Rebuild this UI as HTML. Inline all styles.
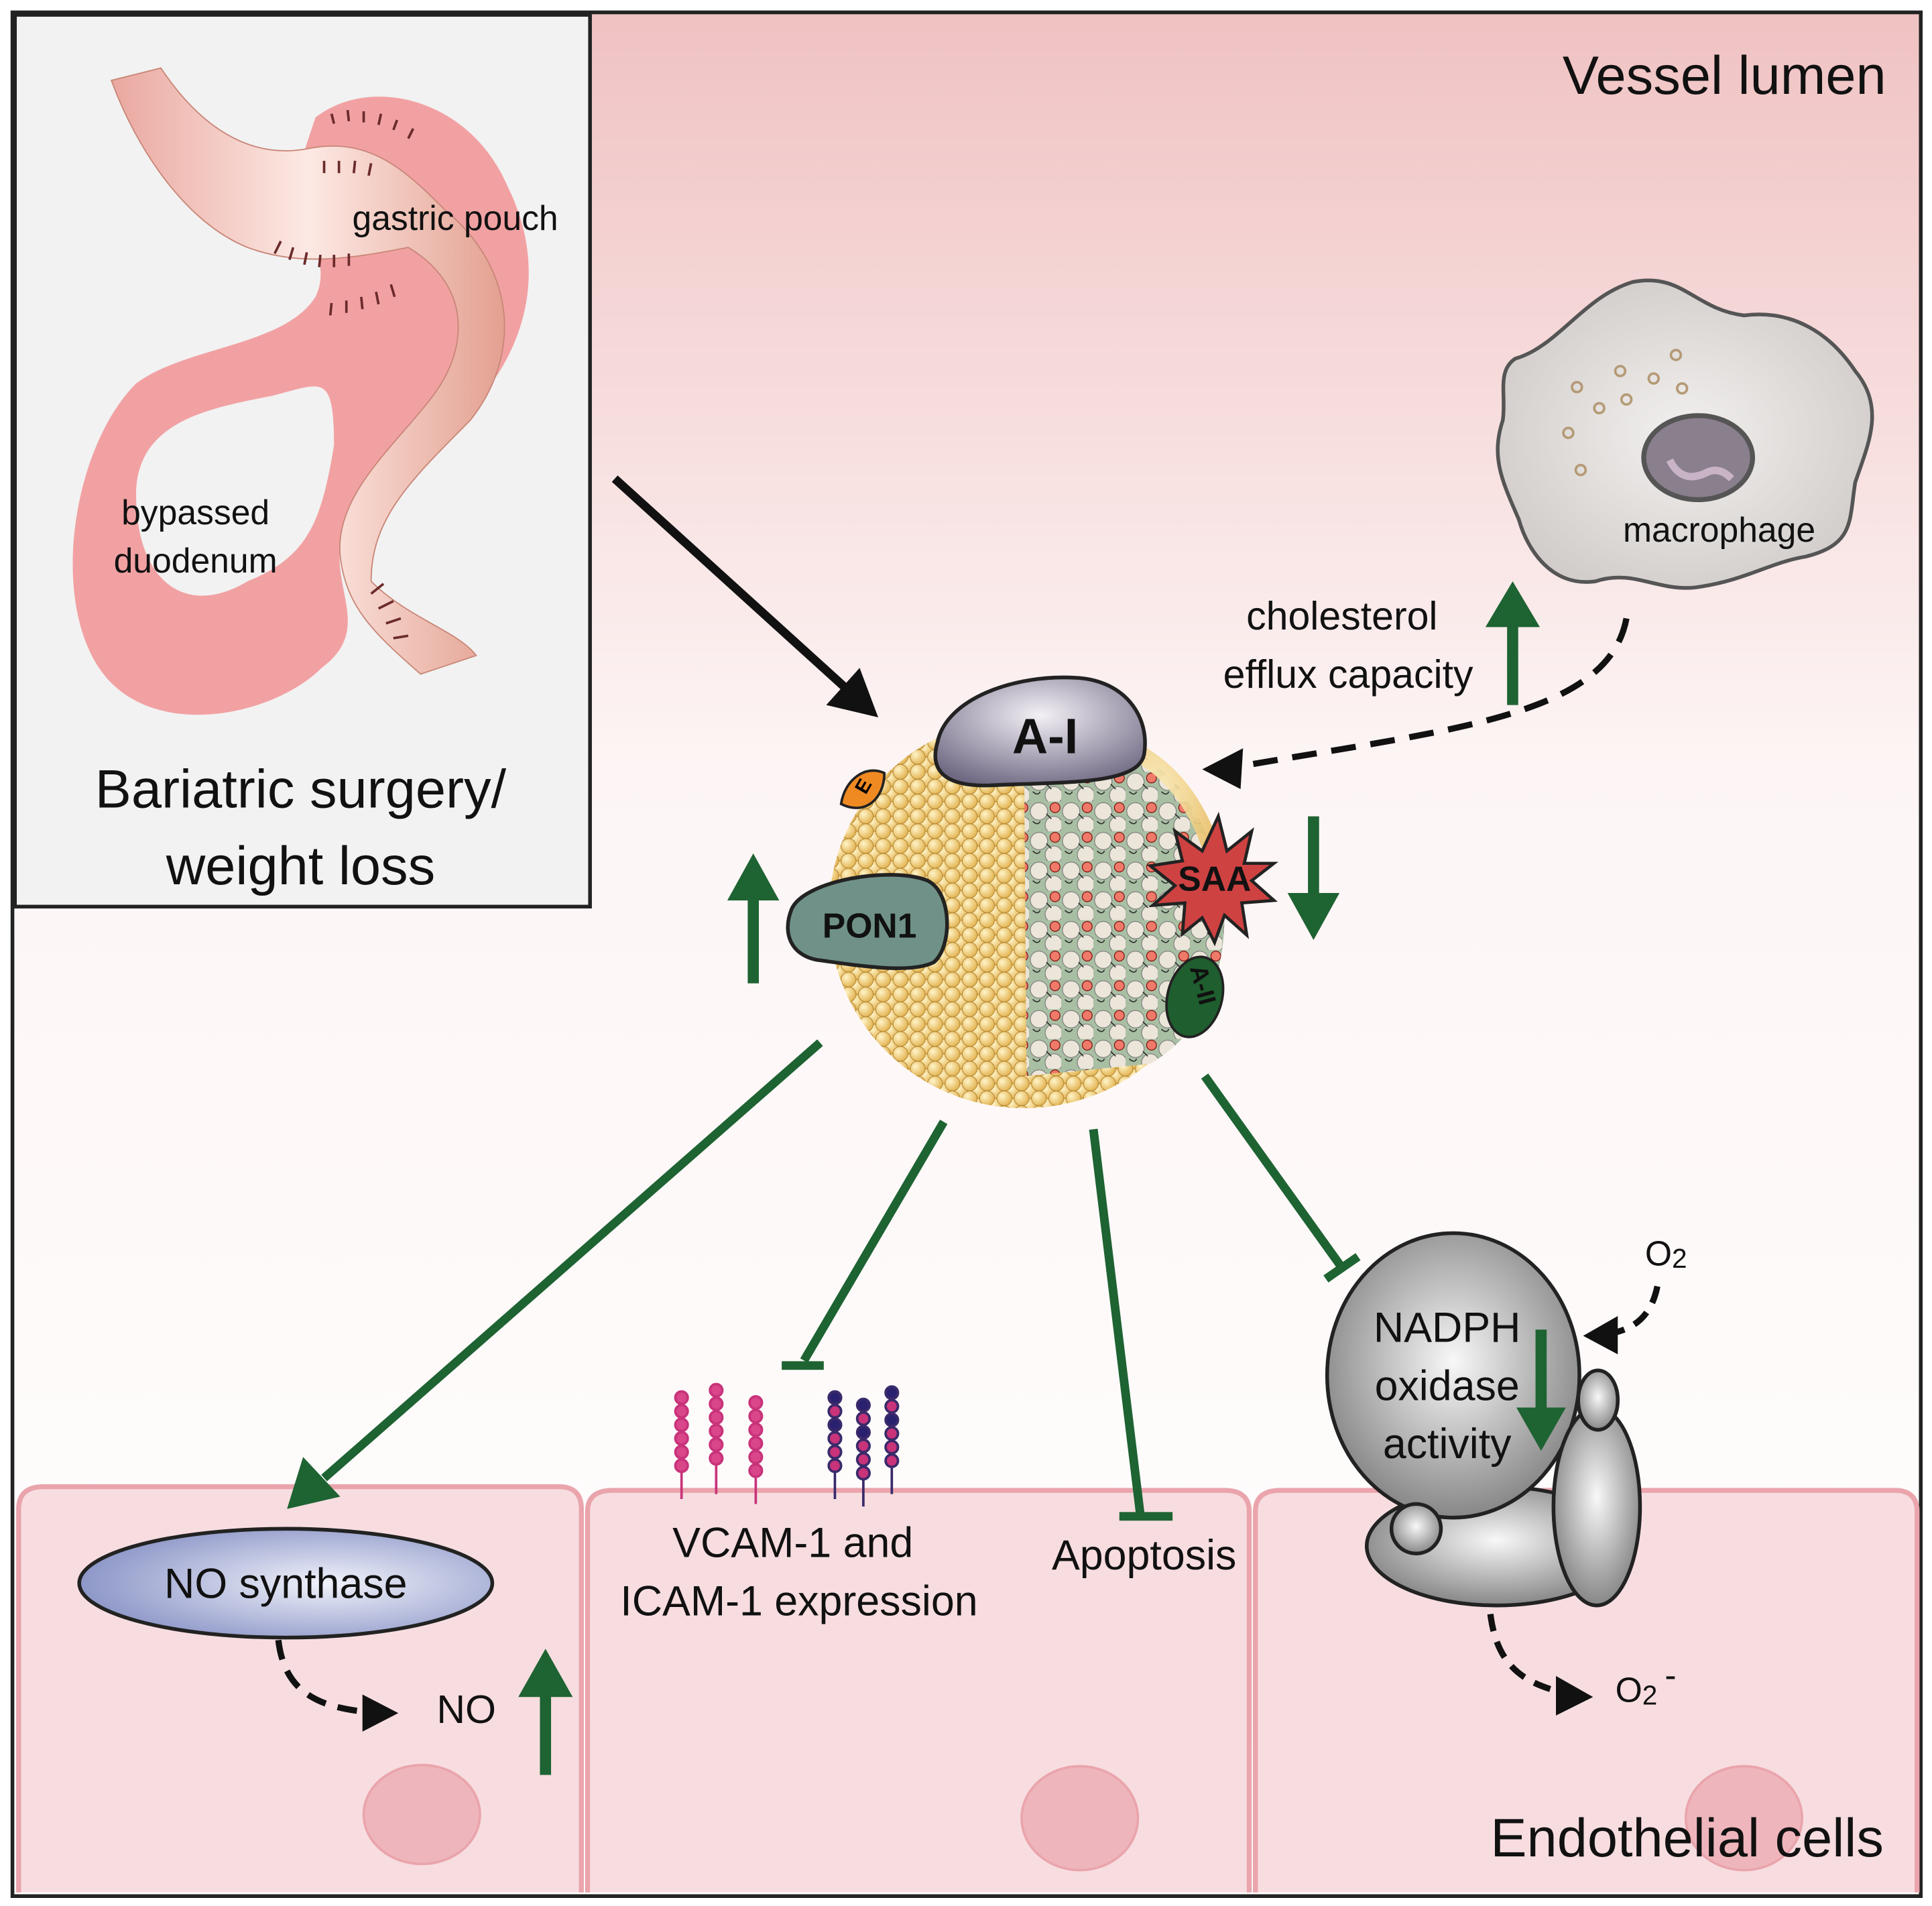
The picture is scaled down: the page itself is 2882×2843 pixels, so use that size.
<!DOCTYPE html>
<html><head><meta charset="utf-8"><style>
html,body{margin:0;padding:0;background:#fff}
svg{display:block}
text{font-family:"Liberation Sans",sans-serif}
</style></head><body>
<svg width="2882" height="2843" viewBox="0 0 1562 1541" xmlns="http://www.w3.org/2000/svg">
<defs>
<linearGradient id="bg" x1="0" y1="0" x2="0" y2="1">
<stop offset="0" stop-color="#f0c2c2"/><stop offset="0.4" stop-color="#fdf5f5"/><stop offset="1" stop-color="#fff"/>
</linearGradient>
<radialGradient id="gold" cx="0.35" cy="0.35" r="0.7"><stop offset="0" stop-color="#fff4c8"/><stop offset="1" stop-color="#e2b24f"/></radialGradient>
<pattern id="beads" width="14" height="12" patternUnits="userSpaceOnUse">
<rect width="14" height="12" fill="#c99a3f"/>
<circle cx="7" cy="6" r="6" fill="url(#gold)" stroke="#b88a35" stroke-width="0.6"/>
<circle cx="0" cy="0" r="6" fill="url(#gold)" stroke="#b88a35" stroke-width="0.6"/>
<circle cx="14" cy="0" r="6" fill="url(#gold)" stroke="#b88a35" stroke-width="0.6"/>
<circle cx="0" cy="12" r="6" fill="url(#gold)" stroke="#b88a35" stroke-width="0.6"/>
<circle cx="14" cy="12" r="6" fill="url(#gold)" stroke="#b88a35" stroke-width="0.6"/>
</pattern>
<pattern id="core" width="26" height="24" patternUnits="userSpaceOnUse">
<rect width="26" height="24" fill="#a9bfa4"/>
<circle cx="8" cy="8" r="7" fill="#ece5da" stroke="#777" stroke-width="0.6"/>
<circle cx="20" cy="19" r="7" fill="#ece5da" stroke="#777" stroke-width="0.6"/>
<circle cx="21" cy="5" r="4" fill="#f07a6a" stroke="#700" stroke-width="0.6"/>
<path d="M3 16 q4 4 6 0 M14 10 l4 4" stroke="#222" fill="none" stroke-width="0.8"/>
</pattern>
<radialGradient id="gA" cx="0.5" cy="0.35" r="0.7"><stop offset="0" stop-color="#f4f0f6"/><stop offset="1" stop-color="#6e6882"/></radialGradient>
<radialGradient id="gN" cx="0.6" cy="0.5" r="0.6"><stop offset="0" stop-color="#f0f2fa"/><stop offset="1" stop-color="#8d97c8"/></radialGradient>
<radialGradient id="gG" cx="0.5" cy="0.45" r="0.6"><stop offset="0" stop-color="#f8f8f8"/><stop offset="1" stop-color="#7d7d7d"/></radialGradient>
<radialGradient id="gM" cx="0.5" cy="0.5" r="0.6"><stop offset="0" stop-color="#f2f0ef"/><stop offset="1" stop-color="#cfcac7"/></radialGradient>
<linearGradient id="duo" x1="0" y1="0" x2="1" y2="0"><stop offset="0" stop-color="#e9a8a0"/><stop offset="0.5" stop-color="#fde9e4"/><stop offset="1" stop-color="#e3a090"/></linearGradient>
<marker id="ab" markerWidth="10" markerHeight="10" refX="6" refY="5" orient="auto" markerUnits="userSpaceOnUse" viewBox="0 0 10 10"><path d="M0 0 L10 5 L0 10 z" fill="#111"/></marker>
</defs>
<rect x="0" y="0" width="1562" height="1541" fill="#fff"/>
<rect x="10" y="10" width="1543" height="1523" fill="url(#bg)" stroke="#222" stroke-width="3"/>
<!-- inset -->
<rect x="12" y="12" width="465" height="721" fill="#f2f2f2" stroke="#222" stroke-width="3"/>
<!-- stomach -->
<path d="M255 95 C300 60 380 80 410 150 C440 210 430 270 390 320 C350 360 290 380 275 440 C270 480 300 510 260 540 C220 580 120 600 80 540 C40 480 60 360 110 310 C150 280 230 280 255 240 C270 210 240 180 240 140 Z" fill="#f2a1a3"/>
<path d="M110 400 C110 340 170 330 220 320 C260 310 270 300 270 360 C260 420 250 450 200 470 C150 500 110 470 110 400 Z" fill="#f2f2f2"/>
<path d="M90 65 L130 55 C160 100 200 130 250 120 C300 110 330 140 360 170 C420 220 420 290 380 340 C330 390 300 420 300 470 C330 500 370 510 385 530 L340 545 C300 510 280 490 275 450 C270 400 320 360 350 320 C380 280 380 230 330 200 C280 210 240 215 200 200 C150 180 110 120 90 65 Z" fill="url(#duo)" stroke="#c98778" stroke-width="1"/>
<g stroke="#6b2b2b" stroke-width="2">
<path d="M270 100 l-2 -8 M282 98 l-1 -9 M294 99 l0 -9 M306 101 l2 -9 M318 105 l3 -8 M330 112 l4 -8 M262 140 l0 -10 M274 140 l0 -10 M286 140 l1 -10 M298 142 l2 -10 M222 205 l5 -10 M234 210 l3 -10 M246 214 l2 -10 M258 216 l1 -10 M270 216 l0 -10 M282 215 l0 -10 M268 245 l-1 10 M280 243 l0 10 M292 240 l1 10 M304 236 l2 10 M316 230 l3 10 M300 480 l10 -8 M306 492 l12 -6 M312 504 l12 -4 M318 516 l12 -2"/>
</g>
<text x="368" y="186" font-size="28" text-anchor="middle" fill="#111">gastric pouch</text>
<text x="158" y="424" font-size="28" text-anchor="middle" fill="#111">bypassed</text>
<text x="158" y="463" font-size="28" text-anchor="middle" fill="#111">duodenum</text>
<text x="243" y="653" font-size="44" text-anchor="middle" fill="#111">Bariatric surgery/</text>
<text x="243" y="715" font-size="44" text-anchor="middle" fill="#111">weight loss</text>
<text x="1525" y="76" font-size="44" text-anchor="end" fill="#111">Vessel lumen</text>
<!-- black arrow -->
<line x1="497" y1="387" x2="690" y2="562" stroke="#111" stroke-width="7"/>
<path d="M710 580 L668 570 L695 540 Z" fill="#111"/>
<!-- macrophage -->
<path d="M1225 290 C1260 280 1280 240 1320 228 C1360 220 1370 250 1410 255 C1450 250 1480 270 1500 300 C1525 330 1510 360 1500 390 C1495 420 1500 440 1460 450 C1430 455 1410 470 1370 475 C1340 478 1320 460 1290 470 C1255 475 1235 445 1228 420 C1215 390 1205 370 1215 340 C1218 320 1210 300 1225 290 Z" fill="url(#gM)" stroke="#555" stroke-width="3"/>
<ellipse cx="1373" cy="370" rx="44" ry="34" fill="#8a7f8d" stroke="#555" stroke-width="4"/>
<path d="M1350 372 q10 20 30 10 q10 -5 20 5" stroke="#c9b4c6" stroke-width="6" fill="none"/>
<g fill="none" stroke="#b59a76" stroke-width="2">
<circle cx="1275" cy="313" r="4"/><circle cx="1310" cy="300" r="4"/><circle cx="1337" cy="306" r="4"/><circle cx="1355" cy="287" r="4"/><circle cx="1293" cy="330" r="4"/><circle cx="1315" cy="323" r="4"/><circle cx="1360" cy="314" r="4"/><circle cx="1268" cy="350" r="4"/><circle cx="1278" cy="380" r="4"/>
</g>
<text x="1390" y="438" font-size="28" text-anchor="middle" fill="#111">macrophage</text>
<text x="1085" y="509" font-size="32" text-anchor="middle" fill="#111">cholesterol</text>
<text x="1090" y="556" font-size="32" text-anchor="middle" fill="#111">efflux capacity</text>
<line x1="1223" y1="570" x2="1223" y2="505" stroke="#1e6332" stroke-width="9"/>
<path d="M1201 507 L1245 507 L1223 470 Z" fill="#1e6332"/>
<path d="M1315 500 C1300 580 1170 590 1000 620" stroke="#111" stroke-width="5" fill="none" stroke-dasharray="20 12"/>
<path d="M972 622 L1005 605 L1003 638 Z" fill="#111"/>
<!-- HDL -->
<circle cx="828" cy="738" r="158" fill="url(#beads)"/>
<path d="M828 620 L900 600 C960 620 985 680 990 740 C990 800 965 840 930 860 L830 870 Z" fill="url(#core)"/>
<path d="M900 600 C960 620 985 680 990 740" stroke="url(#gold)" stroke-width="14" fill="none" opacity="0.9"/>
<path d="M680 650 C683 630 700 618 715 625 C715 645 700 660 680 650 Z" fill="#ef8a23" stroke="#222" stroke-width="2"/>
<text x="700" y="643" font-size="16" font-weight="bold" transform="rotate(-60 700 643)">E</text>
<path d="M758 600 C765 565 820 545 870 548 C910 550 930 580 925 610 C920 635 860 632 800 635 C760 636 752 620 758 600 Z" fill="url(#gA)" stroke="#222" stroke-width="3"/>
<text x="845" y="609" font-size="40" font-weight="bold" text-anchor="middle" fill="#111">A-I</text>
<path d="M640 735 C650 712 720 700 750 712 C770 722 770 765 755 778 C735 788 690 780 660 776 C640 772 632 755 640 735 Z" fill="#6f9188" stroke="#222" stroke-width="3"/>
<text x="703" y="758" font-size="28" font-weight="bold" text-anchor="middle" fill="#111">PON1</text>
<polygon points="985,660 992,688 1012,672 1006,698 1030,698 1012,712 1030,728 1004,730 1008,756 990,740 982,762 972,742 956,755 958,730 932,732 950,716 930,700 956,696 950,672 972,688" fill="#cf4242" stroke="#222" stroke-width="2.5"/>
<text x="982" y="720" font-size="28" font-weight="bold" text-anchor="middle" fill="#111">SAA</text>
<ellipse cx="966" cy="806" rx="22" ry="33" transform="rotate(15 966 806)" fill="#1f5e2e" stroke="#222" stroke-width="2"/>
<text x="966" y="798" font-size="20" font-weight="bold" fill="#111" transform="rotate(75 966 798)" text-anchor="middle">A-II</text>
<line x1="609" y1="795" x2="609" y2="725" stroke="#1e6332" stroke-width="9"/>
<path d="M588 728 L630 728 L609 690 Z" fill="#1e6332"/>
<line x1="1062" y1="660" x2="1062" y2="725" stroke="#1e6332" stroke-width="9"/>
<path d="M1041 722 L1083 722 L1062 760 Z" fill="#1e6332"/>
<!-- cells -->
<g fill="#f7dde0" stroke="#eaa4ac" stroke-width="4">
<path d="M15 1530 L15 1220 Q15 1202 35 1202 L452 1202 Q470 1202 470 1220 L470 1530"/>
<path d="M475 1530 L475 1222 Q475 1205 495 1205 L990 1205 Q1010 1205 1010 1222 L1010 1530"/>
<path d="M1015 1530 L1015 1222 Q1015 1205 1035 1205 L1532 1205 Q1550 1205 1550 1222 L1550 1530"/>
</g>
<g fill="#eeb6bc" stroke="#eaa4ac" stroke-width="2">
<ellipse cx="341" cy="1467" rx="47" ry="40"/>
<ellipse cx="873" cy="1470" rx="47" ry="42"/>
<ellipse cx="1410" cy="1470" rx="47" ry="42"/>
</g>
<!-- green lines -->
<g stroke="#1e6332" stroke-width="7" fill="none">
<line x1="663" y1="843" x2="262" y2="1195"/>
<line x1="763" y1="907" x2="650" y2="1100"/><line x1="632" y1="1104" x2="666" y2="1104"/>
<line x1="884" y1="913" x2="922" y2="1225"/><line x1="905" y1="1226" x2="948" y2="1226"/>
<line x1="974" y1="870" x2="1085" y2="1025"/><line x1="1072" y1="1034" x2="1098" y2="1016"/>
</g>
<path d="M232 1220 L245 1178 L275 1210 Z" fill="#1e6332"/>
<!-- receptors -->
<g stroke-width="2">
<g stroke="#c8337a" fill="#d9468a">
<line x1="551" y1="1128" x2="551" y2="1212"/><line x1="579" y1="1122" x2="579" y2="1208"/><line x1="611" y1="1132" x2="611" y2="1216"/>
<circle cx="551" cy="1130" r="5"/><circle cx="551" cy="1141" r="5"/><circle cx="551" cy="1152" r="5"/><circle cx="551" cy="1163" r="5"/><circle cx="551" cy="1174" r="5"/><circle cx="551" cy="1185" r="5"/>
<circle cx="579" cy="1124" r="5"/><circle cx="579" cy="1135" r="5"/><circle cx="579" cy="1146" r="5"/><circle cx="579" cy="1157" r="5"/><circle cx="579" cy="1168" r="5"/><circle cx="579" cy="1179" r="5"/>
<circle cx="611" cy="1134" r="5"/><circle cx="611" cy="1145" r="5"/><circle cx="611" cy="1156" r="5"/><circle cx="611" cy="1167" r="5"/><circle cx="611" cy="1178" r="5"/><circle cx="611" cy="1189" r="5"/>
</g>
<g stroke="#3a2a6a">
<line x1="675" y1="1128" x2="675" y2="1212"/><line x1="698" y1="1134" x2="698" y2="1218"/><line x1="721" y1="1124" x2="721" y2="1208"/>
</g>
<g stroke="#3a2a6a">
<circle cx="675" cy="1130" r="5" fill="#2a2070"/><circle cx="675" cy="1141" r="5" fill="#c8337a"/><circle cx="675" cy="1152" r="5" fill="#2a2070"/><circle cx="675" cy="1163" r="5" fill="#c8337a"/><circle cx="675" cy="1174" r="5" fill="#c8337a"/><circle cx="675" cy="1185" r="5" fill="#c8337a"/>
<circle cx="698" cy="1136" r="5" fill="#2a2070"/><circle cx="698" cy="1147" r="5" fill="#c8337a"/><circle cx="698" cy="1158" r="5" fill="#2a2070"/><circle cx="698" cy="1169" r="5" fill="#c8337a"/><circle cx="698" cy="1180" r="5" fill="#c8337a"/><circle cx="698" cy="1191" r="5" fill="#c8337a"/>
<circle cx="721" cy="1126" r="5" fill="#2a2070"/><circle cx="721" cy="1137" r="5" fill="#c8337a"/><circle cx="721" cy="1148" r="5" fill="#2a2070"/><circle cx="721" cy="1159" r="5" fill="#c8337a"/><circle cx="721" cy="1170" r="5" fill="#c8337a"/><circle cx="721" cy="1181" r="5" fill="#c8337a"/>
</g>
</g>
<text x="641" y="1259" font-size="34" text-anchor="middle" fill="#111">VCAM-1 and</text>
<text x="646" y="1306" font-size="34" text-anchor="middle" fill="#111">ICAM-1 expression</text>
<text x="925" y="1269" font-size="34" text-anchor="middle" fill="#111">Apoptosis</text>
<!-- NO synthase -->
<ellipse cx="231" cy="1280" rx="167" ry="44" fill="url(#gN)" stroke="#222" stroke-width="3"/>
<text x="231" y="1292" font-size="34" text-anchor="middle" fill="#111">NO synthase</text>
<path d="M225 1326 C230 1370 260 1380 295 1384" stroke="#111" stroke-width="5" fill="none" stroke-dasharray="16 10"/>
<path d="M322 1385 L293 1370 L293 1400 Z" fill="#111"/>
<text x="377" y="1393" font-size="32" text-anchor="middle" fill="#111">NO</text>
<line x1="441" y1="1435" x2="441" y2="1370" stroke="#1e6332" stroke-width="9"/>
<path d="M419 1372 L463 1372 L441 1333 Z" fill="#1e6332"/>
<!-- NADPH oxidase -->
<ellipse cx="1210" cy="1250" rx="105" ry="48" fill="url(#gG)" stroke="#222" stroke-width="3"/>
<ellipse cx="1175" cy="1112" rx="102" ry="115" fill="url(#gG)" stroke="#222" stroke-width="3"/>
<ellipse cx="1291" cy="1218" rx="35" ry="80" fill="url(#gG)" stroke="#222" stroke-width="3"/>
<ellipse cx="1292" cy="1132" rx="16" ry="24" fill="url(#gG)" stroke="#222" stroke-width="3"/>
<circle cx="1145" cy="1236" r="20" fill="url(#gG)" stroke="#222" stroke-width="3"/>
<text x="1170" y="1085" font-size="34" text-anchor="middle" fill="#111">NADPH</text>
<text x="1170" y="1132" font-size="34" text-anchor="middle" fill="#111">oxidase</text>
<text x="1170" y="1179" font-size="34" text-anchor="middle" fill="#111">activity</text>
<line x1="1246" y1="1075" x2="1246" y2="1140" stroke="#1e6332" stroke-width="9"/>
<path d="M1226 1138 L1266 1138 L1246 1173 Z" fill="#1e6332"/>
<text x="1330" y="1023" font-size="28" fill="#111">O<tspan font-size="22" dy="2">2</tspan></text>
<path d="M1340 1040 C1335 1065 1320 1075 1302 1078" stroke="#111" stroke-width="5" fill="none" stroke-dasharray="14 9"/>
<path d="M1280 1080 L1308 1064 L1308 1095 Z" fill="#111"/>
<path d="M1205 1305 C1210 1345 1230 1360 1262 1368" stroke="#111" stroke-width="5" fill="none" stroke-dasharray="14 9"/>
<path d="M1288 1372 L1258 1355 L1258 1387 Z" fill="#111"/>
<text x="1306" y="1376" font-size="28" fill="#111">O<tspan font-size="22" dy="2">2</tspan><tspan dy="-14" dx="6">-</tspan></text>
<text x="1523" y="1501" font-size="44" text-anchor="end" fill="#111">Endothelial cells</text>
</svg>
</body></html>
